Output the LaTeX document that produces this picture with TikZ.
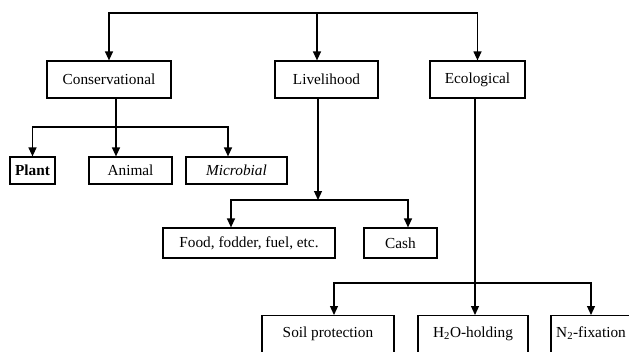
\documentclass[tikz,border=0pt]{standalone}
\usepackage{fontspec}
\setmainfont{Liberation Serif}
\usetikzlibrary{arrows.meta, positioning}

\begin{document}
\begin{tikzpicture}[
    x=1pt, y=-1pt,
    font=\fontsize{15.3}{18}\selectfont,
    box/.style={rectangle, draw, line width=1.2pt, inner sep=0pt, align=center},
    topbox/.style={box, minimum height=37pt},
    midbox/.style={box, minimum height=27pt},
    lowbox/.style={box, minimum height=30pt},
    openbox/.style={box, anchor=north, text height=12pt, text depth=40pt, inner ysep=10pt},
    line/.style={line width=1.2pt},
    arrow/.style={line, -{Triangle[length=9pt, width=8pt]}},
]

% Frame
\useasboundingbox (0,0) rectangle (629,351);
\clip (0,0) rectangle (629,351);

% Nodes
\node[topbox, minimum width=124pt] (cons) at (109,79.5) {Conservational};
\node[topbox, minimum width=103pt] (live) at (326.5,79.5) {Livelihood};
\node[topbox, minimum width=95pt] (eco) at (477.5,79.5) {Ecological};

\node[midbox, minimum width=45pt] (plant) at (32.5,170.5) {\bfseries Plant};
\node[midbox, minimum width=83pt] (animal) at (130.5,170.5) {Animal};
\node[midbox, minimum width=101pt] (micro) at (236.5,170.5) {\itshape Microbial};

\node[lowbox, minimum width=172pt] (food) at (249,243) {Food, fodder, fuel, etc.};
\node[lowbox, minimum width=73pt] (cash) at (400.5,243) {Cash};

\node[openbox, minimum width=132pt] (soil) at (328,315) {Soil protection};
\node[openbox, minimum width=110pt] (water) at (473,315) {H\textsubscript{2}O-holding};
\node[openbox, minimum width=80pt] (fix) at (591,315) {N\textsubscript{2}-fixation};

% Arrows
\coordinate (top) at (317,13);
\draw[arrow] (top) -| (cons);
\draw[arrow] (top) -- (live.north -| top);
\draw[arrow] (top) -| (eco);

\coordinate (cbus) at (116,127);
\draw[line] (cons.south -| cbus) -- (cbus);
\draw[arrow] (cbus) -| (plant);
\draw[arrow] (cbus) -- (animal.north -| cbus);
\draw[arrow] (cbus) -| ([xshift=-8.5pt]micro.north);

\coordinate (lbus) at (318,200);
\draw[arrow] (live.south -| lbus) -- (lbus);
\draw[arrow] (lbus) -| ([xshift=-18pt]food.north);
\draw[arrow] (lbus) -| ([xshift=7.5pt]cash.north);

\coordinate (ebus) at (475,283);
\draw[arrow] (eco.south -| ebus) -- (water.north -| ebus);
\draw[arrow] (ebus) -| ([xshift=6pt]soil.north);
\draw[arrow] (ebus) -| (fix);

\end{tikzpicture}
\end{document}
